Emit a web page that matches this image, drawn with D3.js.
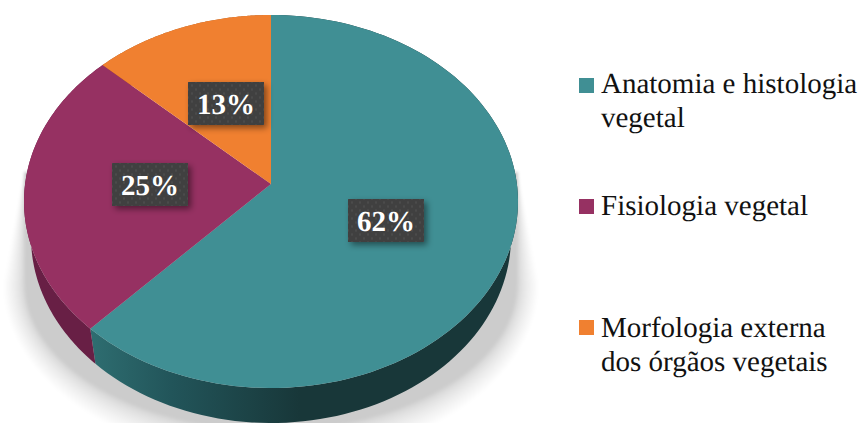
<!DOCTYPE html>
<html>
<head>
<meta charset="utf-8">
<script src="https://cdn.jsdelivr.net/npm/d3@7/dist/d3.min.js"></script>
<style>
html,body{margin:0;padding:0;background:#fff;overflow:hidden}
svg{display:block;text-rendering:geometricPrecision}
</style>
</head>
<body>
<svg id="chart" width="863" height="423"></svg>
<script>
const categories = ["Anatomia e histologia vegetal", "Fisiologia vegetal", "Morfologia externa dos órgãos vegetais"];
const shares = [62, 25, 13];
const legendLines = [["Anatomia e histologia", "vegetal"], ["Fisiologia vegetal"], ["Morfologia externa", "dos órgãos vegetais"]];
const topColors = ["#408f94", "#963162", "#f08030"];
const wallColors = ["url(#wallTeal)", "#681f45", "#a85a22"];

const svg = d3.select("#chart");
const defs = svg.append("defs");

// Disc seen in perspective: the rim is an ellipse, the hub sits above its centre.
const tilt = 0.0938;
const topDisc = {cx: 271, cy: 201.5, rx: 247, ry: 186.5};
const lowDisc = {cx: 271, cy: 237, rx: 240, ry: 186};

function project(disc, angle, r) {
  const u = Math.sin(angle) * r, v = Math.cos(angle) * r;
  const d = 1 + tilt * v, s = Math.sqrt(1 - tilt * tilt);
  return [disc.cx + disc.rx * u * s / d, disc.cy - disc.ry * (v + tilt) / d];
}
const pieLayout = d3.pie().sort(null).value(d => d)(shares);
const line = d3.line();
function rim(disc, a0, a1) {
  return d3.range(0, 1.0001, 1 / 120).map(k => project(disc, a0 + (a1 - a0) * k, 1));
}

// wall shading and label plate effects
const wallGrad = defs.append("linearGradient").attr("id", "wallTeal")
  .attr("gradientUnits", "userSpaceOnUse").attr("x1", 85).attr("x2", 300).attr("y1", 0).attr("y2", 0);
[[0, "#2f6f72"], [0.4, "#22555a"], [1, "#183739"]].forEach(s =>
  wallGrad.append("stop").attr("offset", s[0]).attr("stop-color", s[1]));
defs.append("filter").attr("id", "soft").append("feGaussianBlur").attr("stdDeviation", 1.5);
const boxShadow = defs.append("filter").attr("id", "boxShadow").attr("x", "-30%").attr("y", "-30%").attr("width", "170%").attr("height", "170%");
boxShadow.append("feDropShadow").attr("dx", 3).attr("dy", 3).attr("stdDeviation", 3)
  .attr("flood-color", "#000").attr("flood-opacity", 0.45);
const dots = defs.append("pattern").attr("id", "dots").attr("patternUnits", "userSpaceOnUse").attr("width", 8).attr("height", 8);
dots.append("rect").attr("width", 8).attr("height", 8).attr("fill", "#404040");
dots.append("circle").attr("cx", 2).attr("cy", 2).attr("r", 1.1).attr("fill", "#4f4f4f");
dots.append("circle").attr("cx", 6).attr("cy", 6).attr("r", 1.1).attr("fill", "#4f4f4f");

// Ground shadow: stacked translucent outlines pinned at two points beside the disc,
// so its edge is crisp near those points and widens into a soft fade lower down.
const shadowSteps = d3.range(0, 1.0001, 1 / 24).map(k => Math.pow(k, 1.6));
function shadowOutline(k) {
  const rx = 246 + 21 * k, ry = 146 + 30 * k, cy = 284;
  const arc = d3.range(0, Math.PI + 0.001, Math.PI / 80)
    .map(a => [271 + rx * Math.cos(a), cy + ry * Math.sin(a)]);
  return line([[518, 172]].concat(arc, [[24, 172]])) + "Z";
}
svg.append("g").attr("filter", "url(#soft)").selectAll("path").data(shadowSteps).join("path")
  .attr("fill", "#000").attr("fill-opacity", 0.0105).attr("d", shadowOutline);

// walls, painted first so that the top face covers their hidden part
svg.append("g").selectAll("path").data(pieLayout).join("path")
  .attr("fill", (d, i) => wallColors[i])
  .attr("d", d => {
    const upper = rim(topDisc, d.startAngle, d.endAngle);
    const lower = rim(lowDisc, d.startAngle, d.endAngle).reverse();
    return line(upper.concat(lower)) + "Z";
  });

// top face
svg.append("g").selectAll("path").data(pieLayout).join("path")
  .attr("fill", (d, i) => topColors[i])
  .attr("d", d => line([project(topDisc, 0, 0)].concat(rim(topDisc, d.startAngle, d.endAngle))) + "Z");

// value labels on dark dotted plates
const labelAnchor = [[386, 220.5], [150, 184.5], [226, 103.5]];
const plateW = 76, plateH = 43;
const labels = svg.append("g").selectAll("g").data(shares).join("g")
  .attr("transform", (d, i) => `translate(${labelAnchor[i][0]},${labelAnchor[i][1]})`);
labels.append("rect").attr("x", -plateW / 2).attr("y", -plateH / 2)
  .attr("width", plateW).attr("height", plateH).attr("fill", "url(#dots)").attr("filter", "url(#boxShadow)");
labels.append("text").attr("text-anchor", "middle").attr("y", 10.5)
  .attr("font-family", "'Liberation Serif'").attr("font-weight", "bold").attr("font-size", 29)
  .attr("fill", "#fff").text(d => d + "%");

// legend
const legendY = [78, 199, 320];
const legendBase = [15, 16, 17];
const legend = svg.append("g").selectAll("g").data(categories).join("g")
  .attr("transform", (d, i) => `translate(579,${legendY[i]})`);
legend.append("rect").attr("width", 15).attr("height", 15).attr("fill", (d, i) => topColors[i]);
legend.each(function (d, i) {
  d3.select(this).selectAll("text").data(legendLines[i]).join("text")
    .attr("x", 22).attr("y", (t, j) => legendBase[i] + j * 34)
    .attr("font-family", "'Liberation Serif'").attr("font-size", 29).attr("fill", "#111")
    .text(t => t);
});
</script>
</body>
</html>
